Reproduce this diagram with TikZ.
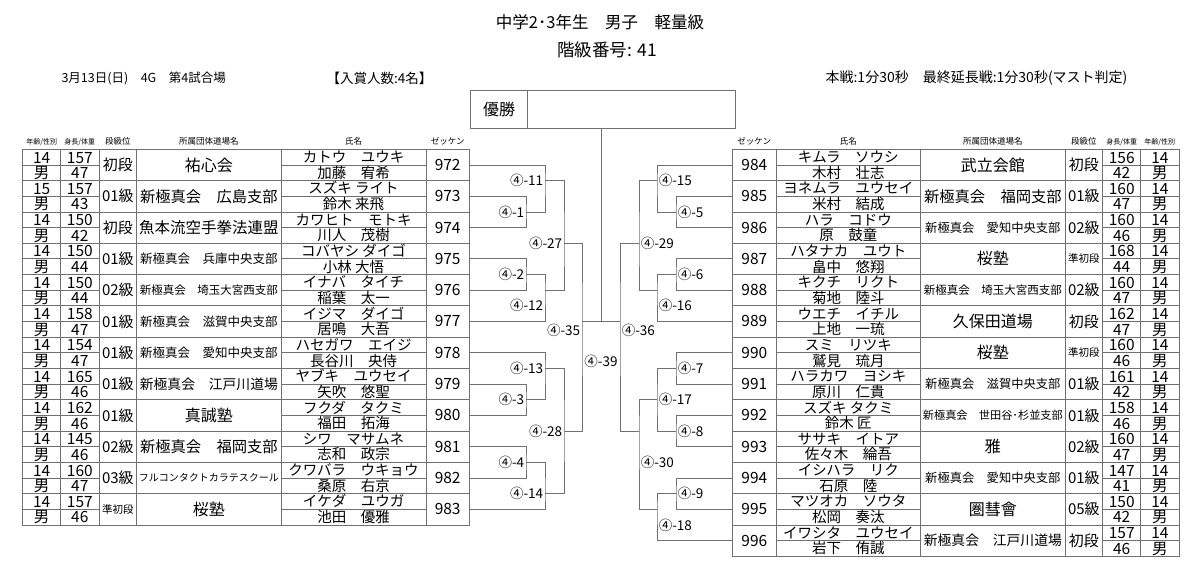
\documentclass[tikz,border=0pt]{standalone}
\usepackage{fontspec}
\setmainfont{Noto Sans CJK JP}
\definecolor{ln}{HTML}{707070}
\newcommand\fsz[1]{\fontsize{#1}{#1}\selectfont}
\newcommand\bky[1]{149.3+15.65*#1}
\tikzset{
  tline/.style={draw=ln, line width=0.8pt},
  bline/.style={draw=ln, line width=0.8pt},
  tx/.style={inner sep=0pt, anchor=base},
  mlab/.style={inner sep=0.6pt, font=\fsz{13.5}},
  hdr/.style={inner sep=0pt, anchor=base},
  zk/.style={inner sep=0pt, minimum width=43.3pt, minimum height=31.3pt, font=\fsz{15.5}},
}
\begin{document}
\begin{tikzpicture}[x=1pt,y=-1pt]
\fill[white] (0,0) rectangle (1200,573);
\useasboundingbox (0,0) rectangle (1200,573);

% ---- titles ----
\node[font=\fsz{16.5}] (title) at (600,22) {中学2･3年生　男子　軽量級};
\node[font=\fsz{17.5}] (cls) at (607,50) {階級番号: 41};
\node[font=\fsz{12.5}, anchor=west] (date) at (58,78) {3月13日(日)　4G　第4試合場};
\node[font=\fsz{13.5}, anchor=west] (prize) at (323,78) {【入賞人数:4名】};
\node[font=\fsz{14}, anchor=east] (rule) at (1131,78) {本戦:1分30秒　最終延長戦:1分30秒(マスト判定)};

% ---- champion box ----
\node[draw=ln, line width=1pt, minimum width=57pt, minimum height=38pt, inner sep=0pt, anchor=west, font=\fsz{16}] (winl) at (470,109.5) {優勝};
\node[draw=ln, line width=1pt, minimum width=208pt, minimum height=38pt, inner sep=0pt, anchor=west] (winr) at (527,109.5) {};

% ---- headers ----
\node[hdr, font=\fsz{7}] (hl1) at (41.7,144) {年齢/性別};
\node[hdr, font=\fsz{7}] (hl2) at (79.85,144) {身長/体重};
\node[hdr, font=\fsz{8.5}] (hl3) at (117.85,144) {段級位};
\node[hdr, font=\fsz{8.5}] (hl4) at (208.85,144) {所属団体道場名};
\node[hdr, font=\fsz{8.5}] (hl5) at (353.5,144) {氏名};
\node[hdr, font=\fsz{8.5}] (hl6) at (447.65,144) {ゼッケン};
\node[hdr, font=\fsz{8.5}] (hr1) at (754.35,144) {ゼッケン};
\node[hdr, font=\fsz{8.5}] (hr2) at (848.35,144) {氏名};
\node[hdr, font=\fsz{8.5}] (hr3) at (992.85,144) {所属団体道場名};
\node[hdr, font=\fsz{8.5}] (hr4) at (1083.85,144) {段級位};
\node[hdr, font=\fsz{7}] (hr5) at (1121.7,144) {身長/体重};
\node[hdr, font=\fsz{7}] (hr6) at (1159.85,144) {年齢/性別};

% ---- left table grid ----
\draw[tline] (22.7,149.3) rectangle (469.3,525);
\foreach \x in {60.7,99,136.7,281,426} \draw[tline] (\x,149.3) -- (\x,525);
\foreach \i in {1,...,11} \draw[tline] (22.7,{149.3+31.3*\i}) -- (469.3,{149.3+31.3*\i});
\foreach \i in {0,...,11} {
  \draw[tline] (22.7,{164.95+31.3*\i}) -- (99,{164.95+31.3*\i});
  \draw[tline] (281,{164.95+31.3*\i}) -- (426,{164.95+31.3*\i});
}

% ---- left table data ----
\foreach \i/\z/\age/\hgt/\wgt/\rank/\rsz/\dojo/\dsz/\kana/\kanji in {
0/972/14/157/47/初段/15/祐心会/16/カトウ　ユウキ/加藤　宥希,
1/973/15/157/43/01級/15/新極真会　広島支部/15.3/スズキ ライト/鈴木 来飛,
2/974/14/150/42/初段/15/魚本流空手拳法連盟/15.5/カワヒト　モトキ/川人　茂樹,
3/975/14/150/44/01級/15/新極真会　兵庫中央支部/12.5/コバヤシ ダイゴ/小林 大悟,
4/976/14/150/44/02級/15/新極真会　埼玉大宮西支部/11.5/イナバ　タイチ/稲葉　太一,
5/977/14/158/47/01級/15/新極真会　滋賀中央支部/12.5/イジマ　ダイゴ/居鳴　大吾,
6/978/14/154/47/01級/15/新極真会　愛知中央支部/12.5/ハセガワ　エイジ/長谷川　央侍,
7/979/14/165/46/01級/15/新極真会　江戸川道場/13.8/ヤブキ　ユウセイ/矢吹　悠聖,
8/980/14/162/46/01級/15/真誠塾/16/フクダ　タクミ/福田　拓海,
9/981/14/145/46/02級/15/新極真会　福岡支部/15.3/シワ　マサムネ/志和　政宗,
10/982/14/160/47/03級/15/フルコンタクトカラテスクール/10/クワバラ　ウキョウ/桑原　右京,
11/983/14/157/46/準初段/10.5/桜塾/16/イケダ　ユウガ/池田　優雅}
{
  \pgfmathsetmacro\yt{149.3+31.3*\i}
  \node[tx, font=\fsz{15.5}] (lage\z) at (41.7,{\yt+7.83+5.9}) {\age};
  \node[tx, font=\fsz{15.5}] (lsex\z) at (41.7,{\yt+23.48+5.9}) {男};
  \node[tx, font=\fsz{15.5}] (lhgt\z) at (79.85,{\yt+7.83+5.9}) {\hgt};
  \node[tx, font=\fsz{15.5}] (lwgt\z) at (79.85,{\yt+23.48+5.9}) {\wgt};
  \node[tx, font=\fsz{\rsz}] (lrk\z) at (117.85,{\yt+15.65+0.38*\rsz}) {\rank};
  \node[tx, font=\fsz{\dsz}] (ldj\z) at (208.85,{\yt+15.65+0.38*\dsz}) {\dojo};
  \node[tx, font=\fsz{14.5}] (lkn\z) at (353.5,{\yt+7.83+5.5}) {\kana};
  \node[tx, font=\fsz{14.5}] (lkj\z) at (353.5,{\yt+23.48+5.5}) {\kanji};
  \node[zk] (lz\z) at (447.65,{\yt+15.65}) {\z};
}

% ---- right table grid ----
\draw[tline] (732.7,149.3) rectangle (1179,556.2);
\foreach \x in {776,920.7,1065,1102.7,1140.7} \draw[tline] (\x,149.3) -- (\x,556.2);
\foreach \i in {1,...,12} \draw[tline] (732.7,{149.3+31.3*\i}) -- (1179,{149.3+31.3*\i});
\foreach \i in {0,...,12} {
  \draw[tline] (776,{164.95+31.3*\i}) -- (920.7,{164.95+31.3*\i});
  \draw[tline] (1102.7,{164.95+31.3*\i}) -- (1179,{164.95+31.3*\i});
}

% ---- right table data ----
\foreach \i/\z/\kana/\kanji/\dojo/\dsz/\rank/\rsz/\hgt/\wgt in {
0/984/キムラ　ソウシ/木村　壮志/武立会館/16/初段/15/156/42,
1/985/ヨネムラ　ユウセイ/米村　結成/新極真会　福岡支部/15.3/01級/15/160/47,
2/986/ハラ　コドウ/原　鼓童/新極真会　愛知中央支部/12.3/02級/15/160/46,
3/987/ハタナカ　ユウト/畠中　悠翔/桜塾/16/準初段/10.5/168/44,
4/988/キクチ　リクト/菊地　陸斗/新極真会　埼玉大宮西支部/11.5/02級/15/160/47,
5/989/ウエチ　イチル/上地　一琉/久保田道場/16/初段/15/162/47,
6/990/スミ　リツキ/鷲見　琉月/桜塾/16/準初段/10.5/160/46,
7/991/ハラカワ　ヨシキ/原川　仁貴/新極真会　滋賀中央支部/12.3/01級/15/161/42,
8/992/スズキ タクミ/鈴木 匠/新極真会　世田谷･杉並支部/11.2/01級/15/158/46,
9/993/ササキ　イトア/佐々木　綸吾/雅/16/02級/15/160/47,
10/994/イシハラ　リク/石原　陸/新極真会　愛知中央支部/12.3/01級/15/147/41,
11/995/マツオカ　ソウタ/松岡　奏汰/圏彗會/16/05級/15/150/42,
12/996/イワシタ　ユウセイ/岩下　侑誠/新極真会　江戸川道場/13.8/初段/15/157/46}
{
  \pgfmathsetmacro\yt{149.3+31.3*\i}
  \node[zk] (rz\z) at (754.35,{\yt+15.65}) {\z};
  \node[tx, font=\fsz{14.5}] (rkn\z) at (848.35,{\yt+7.83+5.5}) {\kana};
  \node[tx, font=\fsz{14.5}] (rkj\z) at (848.35,{\yt+23.48+5.5}) {\kanji};
  \node[tx, font=\fsz{\dsz}] (rdj\z) at (992.85,{\yt+15.65+0.38*\dsz}) {\dojo};
  \node[tx, font=\fsz{\rsz}] (rrk\z) at (1083.85,{\yt+15.65+0.38*\rsz}) {\rank};
  \node[tx, font=\fsz{15.5}] (rhgt\z) at (1121.7,{\yt+7.83+5.9}) {\hgt};
  \node[tx, font=\fsz{15.5}] (rwgt\z) at (1121.7,{\yt+23.48+5.9}) {\wgt};
  \node[tx, font=\fsz{15.5}] (rage\z) at (1159.85,{\yt+7.83+5.9}) {14};
  \node[tx, font=\fsz{15.5}] (rsex\z) at (1159.85,{\yt+23.48+5.9}) {男};
}

% ---- bracket junctions ----
\coordinate (m1)  at (526,{\bky{4}});
\coordinate (m2)  at (526,{\bky{8}});
\coordinate (m3)  at (526,{\bky{16}});
\coordinate (m4)  at (526,{\bky{20}});
\coordinate (m11) at (545,{\bky{2}});
\coordinate (m12) at (545,{\bky{9}});
\coordinate (m13) at (545,{\bky{14}});
\coordinate (m14) at (545,{\bky{22}});
\coordinate (m27) at (564,{\bky{6}});
\coordinate (m28) at (564,{\bky{18}});
\coordinate (m35) at (582,{\bky{11}});
\coordinate (m39) at (601.7,{\bky{11}});
\coordinate (m36) at (620,{\bky{11}});
\coordinate (m29) at (639,{\bky{6}});
\coordinate (m30) at (639,{\bky{18}});
\coordinate (m15) at (657,{\bky{2}});
\coordinate (m16) at (657,{\bky{9}});
\coordinate (m17) at (657,{\bky{16}});
\coordinate (m18) at (657,{\bky{23}});
\coordinate (m5)  at (676,{\bky{4}});
\coordinate (m6)  at (676,{\bky{8}});
\coordinate (m7)  at (676,{\bky{14}});
\coordinate (m8)  at (676,{\bky{18}});
\coordinate (m9)  at (676,{\bky{22}});

% ---- left bracket ----
\draw[bline] (lz973.east) -| (m1) |- (lz974.east);
\draw[bline] (lz972.east) -| (m11) |- (m1);
\draw[bline] (lz975.east) -| (m2) |- (lz976.east);
\draw[bline] (m2) -| (m12) |- (lz977.east);
\draw[bline] (m11) -| (m27) |- (m12);
\draw[bline] (lz979.east) -| (m3) |- (lz980.east);
\draw[bline] (lz978.east) -| (m13) |- (m3);
\draw[bline] (lz981.east) -| (m4) |- (lz982.east);
\draw[bline] (m4) -| (m14) |- (lz983.east);
\draw[bline] (m13) -| (m28) |- (m14);
\draw[bline] (m27) -| (m35) |- (m28);

% ---- right bracket ----
\draw[bline] (rz985.west) -| (m5) |- (rz986.west);
\draw[bline] (rz984.west) -| (m15) |- (m5);
\draw[bline] (rz987.west) -| (m6) |- (rz988.west);
\draw[bline] (m6) -| (m16) |- (rz989.west);
\draw[bline] (m15) -| (m29) |- (m16);
\draw[bline] (rz990.west) -| (m7) |- (rz991.west);
\draw[bline] (rz992.west) -| (m8) |- (rz993.west);
\draw[bline] (m7) -| (m17) |- (m8);
\draw[bline] (rz994.west) -| (m9) |- (rz995.west);
\draw[bline] (m9) -| (m18) |- (rz996.west);
\draw[bline] (m17) -| (m30) |- (m18);
\draw[bline] (m29) -| (m36) |- (m30);

% ---- final ----
\draw[bline] (m35) -- (m39) -- (m36);
\draw[bline] (m39) -- (m39 |- winr.south);

% ---- match labels ----
\node[mlab, anchor=east] (t1)  at (525,{\bky{4}}) {④-1};
\node[mlab, anchor=east] (t11) at (544,{\bky{2}}) {④-11};
\node[mlab, anchor=east] (t27) at (563,{\bky{6}}) {④-27};
\node[mlab, anchor=east] (t2)  at (525,{\bky{8}}) {④-2};
\node[mlab, anchor=east] (t12) at (544,{\bky{10}}) {④-12};
\node[mlab, anchor=east] (t35) at (581,{\bky{11.55}}) {④-35};
\node[mlab, anchor=east] (t13) at (544,{\bky{14}}) {④-13};
\node[mlab, anchor=east] (t3)  at (525,{\bky{16}}) {④-3};
\node[mlab, anchor=east] (t28) at (563,{\bky{18}}) {④-28};
\node[mlab, anchor=east] (t4)  at (525,{\bky{20}}) {④-4};
\node[mlab, anchor=east] (t14) at (544,{\bky{22}}) {④-14};
\node[mlab] (t39) at (601,{\bky{13.55}}) {④-39};
\node[mlab, anchor=west] (t15) at (658,{\bky{2}}) {④-15};
\node[mlab, anchor=west] (t5)  at (677,{\bky{4}}) {④-5};
\node[mlab, anchor=west] (t29) at (640,{\bky{6}}) {④-29};
\node[mlab, anchor=west] (t6)  at (677,{\bky{8}}) {④-6};
\node[mlab, anchor=west] (t16) at (658,{\bky{10}}) {④-16};
\node[mlab, anchor=west] (t36) at (621,{\bky{11.55}}) {④-36};
\node[mlab, anchor=west] (t7)  at (677,{\bky{14}}) {④-7};
\node[mlab, anchor=west] (t17) at (658,{\bky{16}}) {④-17};
\node[mlab, anchor=west] (t8)  at (677,{\bky{18}}) {④-8};
\node[mlab, anchor=west] (t30) at (640,{\bky{20}}) {④-30};
\node[mlab, anchor=west] (t9)  at (677,{\bky{22}}) {④-9};
\node[mlab, anchor=west] (t18) at (658,{\bky{24}}) {④-18};
\end{tikzpicture}
\end{document}
